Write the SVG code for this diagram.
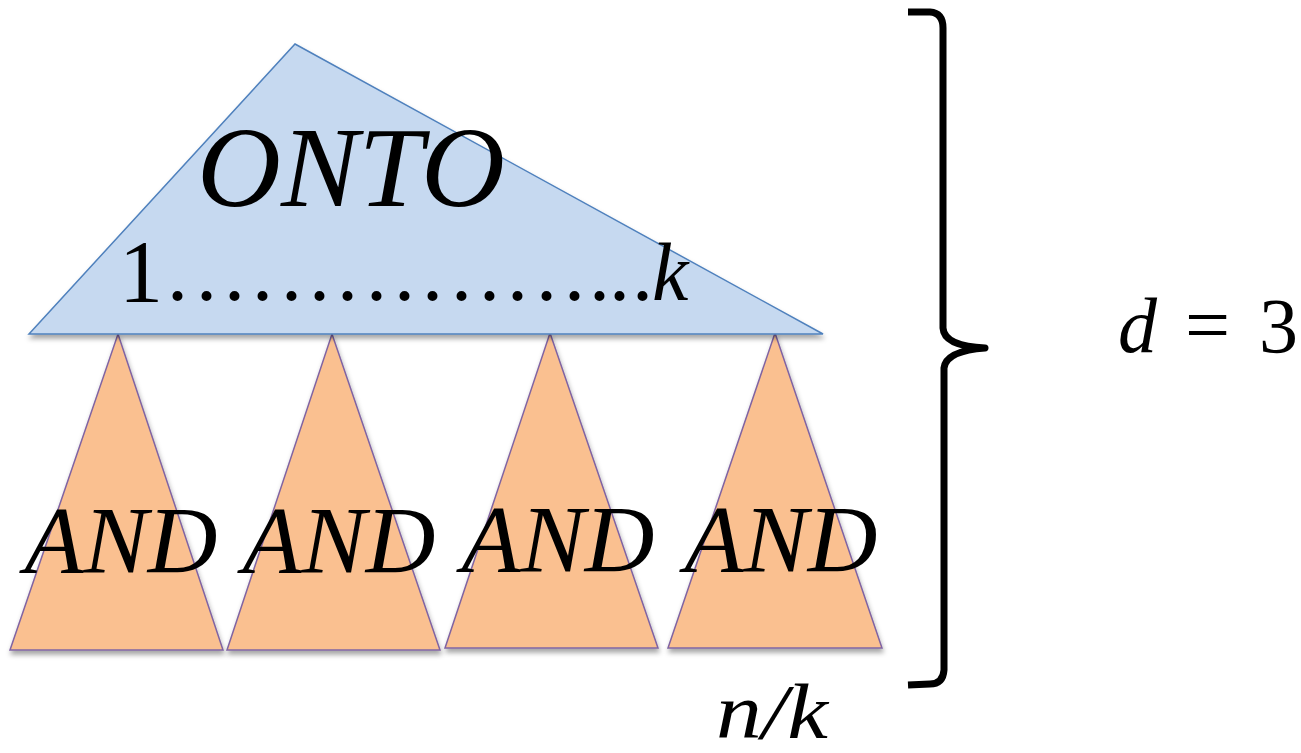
<svg xmlns="http://www.w3.org/2000/svg" width="1301" height="753" viewBox="0 0 1301 753">
<defs>
<filter id="sh" x="-10%" y="-10%" width="120%" height="125%">
<feDropShadow dx="1" dy="4" stdDeviation="2.5" flood-color="#000" flood-opacity="0.35"/>
</filter>
</defs>
<style>
.onto{fill:#c6d9f0;stroke:#4f81bd;stroke-width:1.5;filter:url(#sh)}
.and{fill:#fac090;stroke:#8064a2;stroke-width:1.5;filter:url(#sh)}
.it{font-family:"Liberation Serif",serif;font-style:italic;fill:#000}
.rm{font-family:"Liberation Serif",serif;fill:#000}
.brace{fill:none;stroke:#000;stroke-width:7;stroke-linecap:butt;stroke-linejoin:round}
</style>
<rect width="1301" height="753" fill="#fff"/>
<g id="and1">
<polygon class="and" points="118,334 223,650 10,650"/>
<text class="it" x="121" y="573" font-size="95" text-anchor="middle" textLength="193" lengthAdjust="spacingAndGlyphs">AND</text>
</g>
<g id="and2">
<polygon class="and" points="332,334 440,650 227,650"/>
<text class="it" x="339" y="573" font-size="95" text-anchor="middle" textLength="193" lengthAdjust="spacingAndGlyphs">AND</text>
</g>
<g id="and3">
<polygon class="and" points="550,333 658,648 445,648"/>
<text class="it" x="558" y="572" font-size="95" text-anchor="middle" textLength="193" lengthAdjust="spacingAndGlyphs">AND</text>
</g>
<g id="and4">
<polygon class="and" points="775,333 882,648 668,648"/>
<text class="it" x="781" y="572" font-size="95" text-anchor="middle" textLength="193" lengthAdjust="spacingAndGlyphs">AND</text>
</g>
<g id="onto">
<polygon class="onto" points="295,44 823,334 29,334"/>
<text class="it" x="197" y="206" font-size="114" textLength="308" lengthAdjust="spacingAndGlyphs">ONTO</text>
<text class="rm" x="119" y="301" font-size="88">1</text>
<text class="rm" x="167 196 224 252 281 309 337 366 394 422 451 479 507 536 564 589 609 632" y="300" font-size="84">..................</text>
<text class="it" x="652" y="300" font-size="82">k</text>
</g>
<g id="connectors">
<path class="brace" d="M908,12 L930,12 Q943,13 943,28 L943,328 Q944,346 985,348 Q946,351 944,368 L944,670 Q943,684 930,684 L908,685"/>
</g>
<g id="labels">
<text class="it" x="716" y="738" font-size="78" textLength="112" lengthAdjust="spacingAndGlyphs">n/k</text>
<text class="it" x="1118" y="352" font-size="78">d</text>
<text class="rm" x="1185" y="352" font-size="80">=</text>
<text class="rm" x="1259" y="352" font-size="78">3</text>
</g>
</svg>
